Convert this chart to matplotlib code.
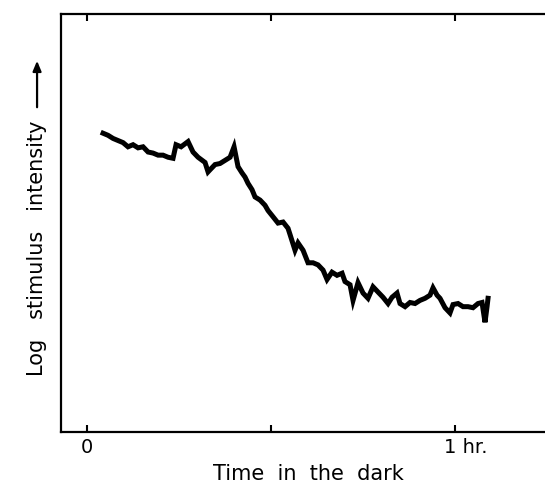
import matplotlib
matplotlib.use('Agg')
import matplotlib.pyplot as plt
import matplotlib.transforms as mtransforms

# time in the dark (minutes) and log stimulus intensity (arbitrary log units),
# read off the tracking record
minutes = [2.61, 3.42, 4.24, 5.05, 5.87, 6.68, 7.50, 8.32, 9.13, 9.95,
           10.76, 11.58, 12.39, 13.21, 14.02, 14.51, 15.33, 16.47, 17.28, 18.10,
           19.24, 19.73, 20.05, 20.87, 21.68, 22.50, 23.32, 23.97, 24.62, 25.27,
           25.76, 26.25, 26.90, 27.39, 28.21, 29.02, 29.51, 30.33, 31.14, 31.96,
           32.77, 33.10, 33.91, 34.40, 35.22, 36.03, 36.85, 37.66, 38.48, 39.13,
           39.94, 40.76, 41.58, 42.06, 42.88, 43.37, 44.18, 45.00, 45.81, 46.63,
           47.44, 48.26, 49.08, 49.73, 50.54, 51.03, 51.85, 52.66, 53.48, 54.29,
           55.11, 55.92, 56.41, 57.07, 57.55, 58.37, 59.18, 59.67, 60.49, 61.30,
           62.12, 62.93, 63.75, 64.40, 64.89, 65.22, 65.38]
log_intensity = [2.86, 2.84, 2.81, 2.79, 2.77, 2.73, 2.75, 2.72, 2.73, 2.68,
                 2.67, 2.65, 2.65, 2.63, 2.62, 2.75, 2.73, 2.78, 2.68, 2.63,
                 2.58, 2.49, 2.51, 2.56, 2.57, 2.60, 2.63, 2.73, 2.54, 2.48,
                 2.44, 2.38, 2.32, 2.25, 2.22, 2.17, 2.12, 2.06, 2.00, 2.01,
                 1.95, 1.89, 1.74, 1.81, 1.74, 1.62, 1.62, 1.60, 1.55, 1.46,
                 1.53, 1.50, 1.52, 1.44, 1.41, 1.26, 1.43, 1.33, 1.28, 1.39,
                 1.34, 1.29, 1.23, 1.29, 1.33, 1.23, 1.20, 1.24, 1.23, 1.26,
                 1.28, 1.31, 1.38, 1.31, 1.28, 1.19, 1.14, 1.22, 1.23, 1.20,
                 1.20, 1.19, 1.23, 1.24, 1.05, 1.20, 1.28]

tick_pos = [0, 30, 60]
tick_labels = ['0', '', '1 hr.']

fig = plt.figure(figsize=(5.45, 4.86), dpi=100)
ax = fig.add_axes([0.112, 0.111, 0.888, 0.860])

ax.plot(minutes, log_intensity, color='black', lw=3.6, solid_joinstyle='miter')

ax.set_xlim(-4.24, 74.67)
ax.set_ylim(0, 4.0)

ax.set_xticks(tick_pos)
ax.set_xticklabels(tick_labels, fontsize=14)
ax.tick_params(axis='x', direction='in', top=True, length=5, width=1.5, pad=4)
ax.set_yticks([])

# "1 hr." sits just left of its tick, then runs to the right
hr_label = ax.xaxis.get_ticklabels()[2]
hr_label.set_ha('left')
hr_label.set_transform(hr_label.get_transform() +
                       mtransforms.ScaledTranslation(-11 / 100, 0, fig.dpi_scale_trans))

for side in ['left', 'bottom', 'top']:
    ax.spines[side].set_linewidth(1.6)
ax.spines['right'].set_visible(False)

fig.text(0.565, 0.024, 'Time  in  the  dark', ha='center', va='center', fontsize=15)
fig.text(0.068, 1 - 248 / 486, 'Log   stimulus   intensity', ha='center', va='center',
         rotation=90, fontsize=15)
fig.add_artist(matplotlib.patches.FancyArrowPatch(
    (0.068, 1 - 110 / 486), (0.068, 1 - 58 / 486), transform=fig.transFigure,
    arrowstyle='-|>,head_length=6,head_width=2.5', color='black', lw=1.6))

fig.savefig('out.png', dpi=100)
